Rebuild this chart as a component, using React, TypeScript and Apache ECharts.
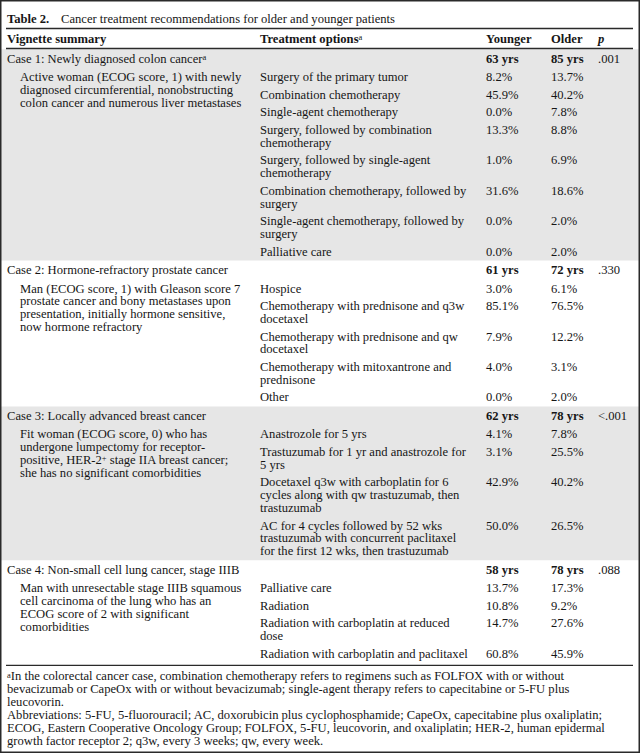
import React, { useEffect, useRef } from "react";
import * as echarts from "echarts";

const FONT = '"Liberation Serif", "Times New Roman", Times, serif';

const tableTitleLabel = "Table 2.";
const tableTitle = "Cancer treatment recommendations for older and younger patients";
const headerLabels = ["Vignette summary", "Treatment options", "Younger", "Older", "p"];

const caseTitles = [
  "Case 1: Newly diagnosed colon cancer",
  "Case 2: Hormone-refractory prostate cancer",
  "Case 3: Locally advanced breast cancer",
  "Case 4: Non-small cell lung cancer, stage IIIB",
];
const caseTitleMarks = ["a", "", "", ""];
const youngerAges = [63, 61, 62, 58];
const olderAges = [85, 72, 78, 78];
const pValues = [".001", ".330", "<.001", ".088"];

const vignetteLines = [
  [
    "Active woman (ECOG score, 1) with newly",
    "diagnosed circumferential, nonobstructing",
    "colon cancer and numerous liver metastases",
  ],
  [
    "Man (ECOG score, 1) with Gleason score 7",
    "prostate cancer and bony metastases upon",
    "presentation, initially hormone sensitive,",
    "now hormone refractory",
  ],
  [
    "Fit woman (ECOG score, 0) who has",
    "undergone lumpectomy for receptor-",
    "positive, HER-2{sup|+} stage IIA breast cancer;",
    "she has no significant comorbidities",
  ],
  [
    "Man with unresectable stage IIIB squamous",
    "cell carcinoma of the lung who has an",
    "ECOG score of 2 with significant",
    "comorbidities",
  ],
];

const treatmentOptions = [
  [
    "Surgery of the primary tumor",
    "Combination chemotherapy",
    "Single-agent chemotherapy",
    "Surgery, followed by combination\nchemotherapy",
    "Surgery, followed by single-agent\nchemotherapy",
    "Combination chemotherapy, followed by\nsurgery",
    "Single-agent chemotherapy, followed by\nsurgery",
    "Palliative care",
  ],
  [
    "Hospice",
    "Chemotherapy with prednisone and q3w\ndocetaxel",
    "Chemotherapy with prednisone and qw\ndocetaxel",
    "Chemotherapy with mitoxantrone and\nprednisone",
    "Other",
  ],
  [
    "Anastrozole for 5 yrs",
    "Trastuzumab for 1 yr and anastrozole for\n5 yrs",
    "Docetaxel q3w with carboplatin for 6\ncycles along with qw trastuzumab, then\ntrastuzumab",
    "AC for 4 cycles followed by 52 wks\ntrastuzumab with concurrent paclitaxel\nfor the first 12 wks, then trastuzumab",
  ],
  [
    "Palliative care",
    "Radiation",
    "Radiation with carboplatin at reduced\ndose",
    "Radiation with carboplatin and paclitaxel",
  ],
];

const youngerPct = [
  [8.2, 45.9, 0.0, 13.3, 1.0, 31.6, 0.0, 0.0],
  [3.0, 85.1, 7.9, 4.0, 0.0],
  [4.1, 3.1, 42.9, 50.0],
  [13.7, 10.8, 14.7, 60.8],
];
const olderPct = [
  [13.7, 40.2, 7.8, 8.8, 6.9, 18.6, 2.0, 2.0],
  [6.1, 76.5, 12.2, 3.1, 2.0],
  [7.8, 25.5, 40.2, 26.5],
  [17.3, 9.2, 27.6, 45.9],
];

const footnoteLines = [
  "{sup|a}In the colorectal cancer case, combination chemotherapy refers to regimens such as FOLFOX with or without",
  "bevacizumab or CapeOx with or without bevacizumab; single-agent therapy refers to capecitabine or 5-FU plus",
  "leucovorin.",
  "Abbreviations: 5-FU, 5-fluorouracil; AC, doxorubicin plus cyclophosphamide; CapeOx, capecitabine plus oxaliplatin;",
  "ECOG, Eastern Cooperative Oncology Group; FOLFOX, 5-FU, leucovorin, and oxaliplatin; HER-2, human epidermal",
  "growth factor receptor 2; q3w, every 3 weeks; qw, every week.",
];

const shadedCases = [true, false, true, false];

export default function App() {
  const ref = useRef<HTMLDivElement>(null);

  useEffect(() => {
    const chart = echarts.init(ref.current!, null, { renderer: "svg" });
    const W = 640;
    const H = 753;
    const INK = "#161616";
    const SHADE = "#e6e6e6";
    const FS = 12.6;
    const LH = 12.6;
    const col = { left: 7, desc: 20, treat: 260, young: 486, old: 551, p: 598 };
    const L = 12.8; // line height
    const S = 17.6; // single row step
    const sup = { fontSize: 8.5, lineHeight: 5, verticalAlign: "top", fontFamily: FONT, fill: INK };

    const shapes: any[] = [];
    const texts: any[] = [];

    const txt = (x: number, y: number, text: string, extra: any = {}) => {
      texts.push({
        type: "text",
        x,
        y,
        silent: true,
        z: 10,
        style: {
          text,
          fill: INK,
          fontFamily: FONT,
          fontSize: FS,
          lineHeight: LH,
          verticalAlign: "middle",
          align: "left",
          rich: {
            sup,
            n: { fontSize: FS, lineHeight: LH, fontFamily: FONT, fill: INK },
          },
          ...extra,
        },
      });
    };
    const hline = (y: number, x1: number, x2: number, w = 1, color = "#2a2a2a") => {
      shapes.push({
        type: "line",
        silent: true,
        z: 5,
        shape: { x1, y1: y, x2, y2: y },
        style: { stroke: color, lineWidth: w },
      });
    };

    // title
    txt(col.left, 18.5, tableTitleLabel, { fontWeight: "bold" });
    txt(61, 18.5, tableTitle);
    hline(28.5, 6, 633, 1.3);
    // header
    txt(col.left, 38.5, headerLabels[0], { fontWeight: "bold" });
    txt(col.treat, 38.5, "{b|" + headerLabels[1] + "}{sup|a}", {
      rich: { sup, b: { fontSize: FS, lineHeight: LH, fontWeight: "bold", fontFamily: FONT, fill: INK } },
    });
    txt(col.young, 38.5, headerLabels[2], { fontWeight: "bold" });
    txt(col.old, 38.5, headerLabels[3], { fontWeight: "bold" });
    txt(col.p, 38.5, headerLabels[4], { fontWeight: "bold", fontStyle: "italic" });
    hline(48.5, 6, 633, 1.3);

    let bandTop = 49.2;
    let bottomLineY = 0;
    caseTitles.forEach((title, i) => {
      const caseY = bandTop + 9.5;
      const mark = caseTitleMarks[i];
      txt(col.left, caseY, mark ? "{n|" + title + "}{sup|" + mark + "}" : title);
      txt(col.young, caseY, youngerAges[i] + " yrs", { fontWeight: "bold" });
      txt(col.old, caseY, olderAges[i] + " yrs", { fontWeight: "bold" });
      txt(col.p, caseY, pValues[i]);

      const firstRowY = caseY + 18.5;
      vignetteLines[i].forEach((line, k) => {
        txt(col.desc, firstRowY + k * L, line.includes("{") ? "{n|" + line.replace("{sup|+}", "}{sup|+}{n|") + "}" : line);
      });

      let rowY = firstRowY;
      let lastLineY = rowY;
      treatmentOptions[i].forEach((opt, j) => {
        const lines = opt.split("\n");
        lines.forEach((ln, k) => txt(col.treat, rowY + k * L, ln));
        txt(col.young, rowY, youngerPct[i][j].toFixed(1) + "%");
        txt(col.old, rowY, olderPct[i][j].toFixed(1) + "%");
        lastLineY = rowY + (lines.length - 1) * L;
        rowY = lastLineY + S;
      });
      const bandBottom = lastLineY + 9;
      if (shadedCases[i]) {
        shapes.push({
          type: "rect",
          silent: true,
          z: 1,
          shape: { x: 1, y: bandTop, width: W - 2, height: bandBottom - bandTop },
          style: { fill: SHADE },
        });
      }
      bandTop = bandBottom;
      bottomLineY = lastLineY + 11.5;
    });

    hline(bottomLineY, 6, 633, 1.2);

    footnoteLines.forEach((ln, k) => {
      const y = bottomLineY + 11 + k * 12.9;
      txt(col.left, y, ln.includes("{sup|") ? ln.replace("{sup|a}", "{sup|a}{n|") + "}" : ln);
    });

    // outer frame
    shapes.push({
      type: "rect",
      silent: true,
      z: 20,
      shape: { x: 0.75, y: 0.75, width: W - 1.5, height: H - 1.5 },
      style: { fill: "none", stroke: "#2a2a2a", lineWidth: 1.5 },
    });

    chart.setOption({
      animation: false,
      backgroundColor: "#ffffff",
      graphic: { elements: [...shapes, ...texts] },
    });
    return () => chart.dispose();
  }, []);

  return (
    <div
      ref={ref}
      style={{ position: "fixed", left: 0, top: 0, width: 640, height: 753, background: "#fff" }}
    />
  );
}
